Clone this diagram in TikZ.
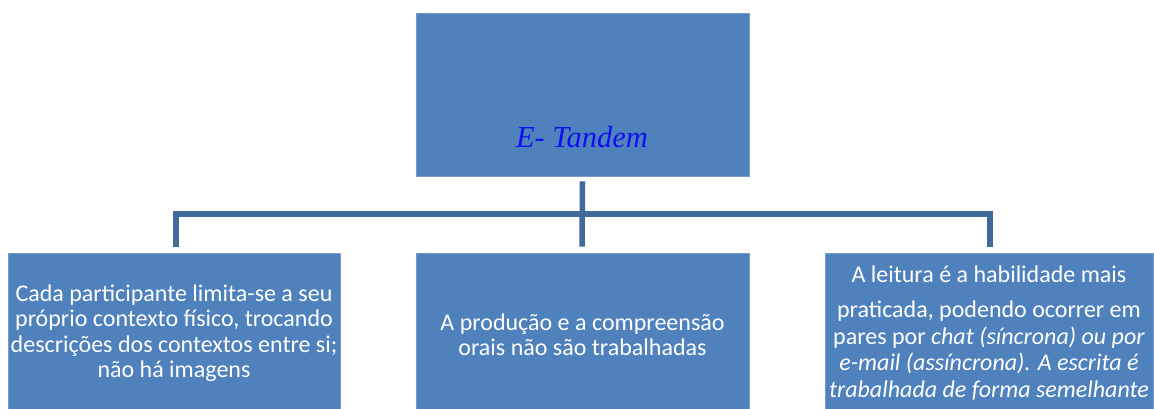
\documentclass[tikz,border=0pt]{standalone}
\usepackage{fontspec}
\setmainfont{Carlito}
\newfontfamily\serifit{Liberation Serif}
\definecolor{boxblue}{HTML}{4F81BD}
\definecolor{boxedge}{HTML}{7A9CC8}
\definecolor{linkblue}{HTML}{41699A}
\definecolor{titleblue}{HTML}{1010F0}
\begin{document}
\begin{tikzpicture}[x=1pt,y=-1pt,
  box/.style={rectangle, fill=boxblue, draw=boxedge, line width=0.75pt, inner sep=0pt},
  boxtext/.style={text=white, align=center, font=\fontsize{24}{25.5}\selectfont},
  link/.style={draw=linkblue, line width=5.5pt}]
\useasboundingbox (0,0) rectangle (1154,409);
\clip (0,0) rectangle (1154,409);
\node[box, minimum width=333pt, minimum height=163pt] (top) at (582.5,94.5) {};
\node[text=titleblue, font=\serifit\itshape\fontsize{30.5}{32}\selectfont] (title) at (582,137) {E- Tandem};
\node[box, boxtext, minimum width=332pt, minimum height=160pt] (left) at (174,333)
  {Cada participante limita-se a seu\\ próprio contexto físico, trocando\\ descrições dos contextos entre si;\\ não há imagens};
\node[box, boxtext, minimum width=333pt, minimum height=164pt] (mid) at (582.5,335)
  {A produção e a compreensão\\ orais não são trabalhadas};
\node[box, boxtext, font=\fontsize{24}{26.5}\selectfont, minimum width=328pt, minimum height=160pt] (right) at (989,333)
  {A leitura é a habilidade mais\\[9pt] praticada, podendo ocorrer em\\ pares por \textit{chat (síncrona) ou por}\\ \textit{e-mail (assíncrona). A escrita é}\\ \textit{trabalhada de forma semelhante}};
\coordinate (hub) at (582,214);
\draw[link] ([yshift=-5pt]top.south) -- ([yshift=6pt,xshift=-0.5pt]mid.north);
\draw[link] ([yshift=6pt,xshift=2pt]left.north) |- (hub) -| ([yshift=6pt,xshift=1pt]right.north);
\end{tikzpicture}
\end{document}
